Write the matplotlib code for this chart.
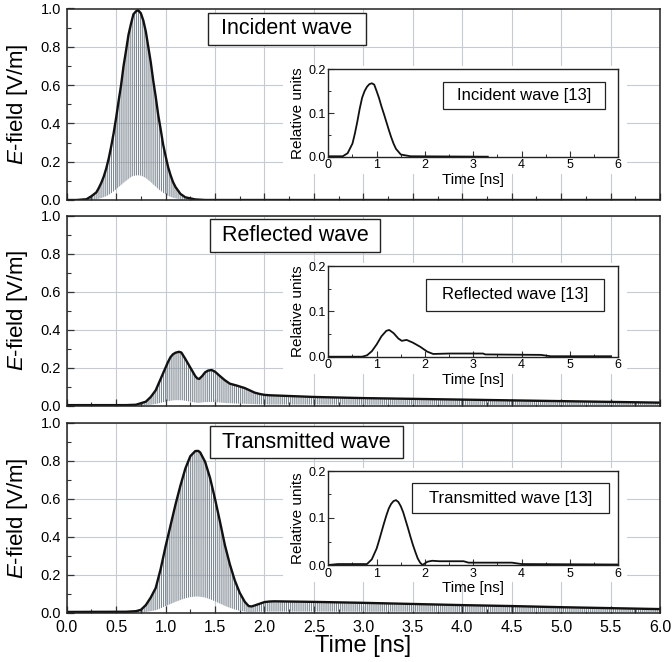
import matplotlib
matplotlib.use("Agg")
from matplotlib import pyplot as plt
from matplotlib.patches import Rectangle
from matplotlib.ticker import MultipleLocator, FormatStrFormatter

plt.rcParams['font.family'] = ['Liberation Sans', 'DejaVu Sans']
plt.rcParams['mathtext.fontset'] = 'custom'
plt.rcParams['mathtext.it'] = 'Liberation Sans:italic'
plt.rcParams['mathtext.rm'] = 'Liberation Sans'
plt.rcParams['hatch.linewidth'] = 0.8

# ---- main panels: envelope (black) and lower edge of the carrier (grey) ----
inc_t = [0.0, 0.1, 0.2, 0.25, 0.3, 0.325, 0.35, 0.375, 0.4, 0.425, 0.45, 0.475, 0.5,
         0.525, 0.55, 0.575, 0.6, 0.625, 0.65, 0.675, 0.7, 0.715, 0.725, 0.75, 0.775,
         0.8, 0.825, 0.85, 0.875, 0.9, 0.925, 0.95, 0.975, 1.0, 1.025, 1.05, 1.075, 1.1,
         1.15, 1.2, 1.3, 1.4, 6.0]
inc_env = [0.0, 0.0, 0.004, 0.02, 0.04, 0.063, 0.09, 0.123, 0.165, 0.217, 0.28, 0.35,
           0.43, 0.517, 0.6, 0.70, 0.78, 0.863, 0.92, 0.97, 0.985, 0.99, 0.99, 0.975,
           0.937, 0.88, 0.80, 0.72, 0.624, 0.54, 0.446, 0.37, 0.29, 0.23, 0.173, 0.13,
           0.094, 0.068, 0.032, 0.014, 0.003, 0.0, 0.0]
inc_low = [0.0, 0.0, 0.0, 0.002, 0.004, 0.007, 0.01, 0.015, 0.02, 0.027, 0.035, 0.045,
           0.056, 0.067, 0.078, 0.09, 0.1, 0.11, 0.12, 0.126, 0.128, 0.129, 0.129, 0.127,
           0.122, 0.115, 0.104, 0.094, 0.081, 0.07, 0.058, 0.048, 0.038, 0.03, 0.022,
           0.017, 0.012, 0.009, 0.004, 0.002, 0.0, 0.0, 0.0]

ref_t = [0.0, 0.6, 0.7, 0.8, 0.85, 0.9, 0.95, 1.0, 1.025, 1.05, 1.075, 1.1, 1.135, 1.16,
         1.2, 1.25, 1.3, 1.32, 1.34, 1.37, 1.4, 1.43, 1.466, 1.5, 1.55, 1.6, 1.65, 1.72,
         1.75, 1.8, 1.85, 1.9, 1.95, 2.0, 2.05, 2.1, 2.5, 3.0, 3.5, 4.0, 4.5, 5.0, 5.5, 6.0]
ref_env = [0.002, 0.002, 0.004, 0.02, 0.045, 0.08, 0.14, 0.2, 0.23, 0.255, 0.27, 0.278,
           0.283, 0.279, 0.245, 0.2, 0.155, 0.143, 0.14, 0.155, 0.175, 0.184, 0.187,
           0.178, 0.155, 0.133, 0.115, 0.105, 0.1, 0.092, 0.08, 0.068, 0.061, 0.056,
           0.054, 0.053, 0.045, 0.039, 0.035, 0.031, 0.027, 0.023, 0.019, 0.015]
ref_low = [0.0, 0.0, 0.0, 0.002, 0.004, 0.008, 0.014, 0.02, 0.023, 0.025, 0.027, 0.028,
           0.028, 0.028, 0.025, 0.02, 0.016, 0.014, 0.014, 0.016, 0.018, 0.018, 0.019,
           0.018, 0.016, 0.013, 0.012, 0.01, 0.01, 0.009, 0.008, 0.007, 0.006, 0.006,
           0.005, 0.005, 0.005, 0.004, 0.004, 0.003, 0.003, 0.002, 0.002, 0.002]

tra_t = [0.0, 0.6, 0.7, 0.75, 0.8, 0.85, 0.9, 0.95, 1.0, 1.05, 1.1, 1.15, 1.2, 1.25,
         1.3, 1.33, 1.35, 1.4, 1.45, 1.5, 1.55, 1.6, 1.65, 1.7, 1.75, 1.8, 1.84, 1.87,
         1.9, 1.95, 2.0, 2.05, 2.1, 2.5, 3.0, 3.5, 4.0, 4.5, 5.0, 5.5, 6.0]
tra_env = [0.004, 0.005, 0.008, 0.015, 0.04, 0.08, 0.13, 0.23, 0.35, 0.46, 0.57, 0.67,
           0.76, 0.825, 0.852, 0.853, 0.845, 0.795, 0.71, 0.6, 0.48, 0.356, 0.255, 0.17,
           0.105, 0.058, 0.035, 0.033, 0.038, 0.047, 0.056, 0.059, 0.06, 0.057, 0.052,
           0.046, 0.04, 0.035, 0.029, 0.024, 0.019]
tra_low = [0.0, 0.0, 0.0, 0.001, 0.004, 0.008, 0.013, 0.023, 0.035, 0.046, 0.057, 0.067,
           0.076, 0.082, 0.085, 0.085, 0.084, 0.08, 0.071, 0.06, 0.048, 0.036, 0.026,
           0.017, 0.01, 0.006, 0.003, 0.003, 0.004, 0.005, 0.006, 0.006, 0.006, 0.006,
           0.005, 0.005, 0.004, 0.004, 0.003, 0.002, 0.002]

# ---- insets: measured pulses from ref. [13] ----
ins_inc_t = [0.0, 0.3, 0.4, 0.5, 0.55, 0.6, 0.65, 0.7, 0.75, 0.8, 0.85, 0.9, 0.95, 1.0,
             1.05, 1.1, 1.15, 1.2, 1.25, 1.3, 1.35, 1.4, 1.5, 1.7, 3.3]
ins_inc_v = [0.001, 0.001, 0.008, 0.03, 0.053, 0.08, 0.11, 0.135, 0.15, 0.16, 0.166,
             0.168, 0.165, 0.15, 0.134, 0.115, 0.098, 0.08, 0.062, 0.045, 0.03, 0.018,
             0.005, 0.001, 0.0]

ins_ref_t = [0.0, 0.7, 0.8, 0.9, 1.0, 1.1, 1.2, 1.26, 1.35, 1.45, 1.52, 1.62, 1.75, 1.9,
             2.05, 2.17, 2.5, 3.0, 3.2, 3.25, 4.4, 4.6, 5.85]
ins_ref_v = [0.0, 0.0, 0.003, 0.012, 0.027, 0.045, 0.057, 0.059, 0.052, 0.04, 0.035,
             0.037, 0.031, 0.022, 0.011, 0.006, 0.007, 0.007, 0.007, 0.005, 0.004, 0.001,
             0.001]

ins_tra_t = [0.0, 0.2, 0.8, 0.9, 1.0, 1.05, 1.1, 1.15, 1.2, 1.25, 1.3, 1.35, 1.4, 1.45,
             1.5, 1.55, 1.6, 1.65, 1.7, 1.75, 1.8, 1.85, 1.9, 1.95, 2.05, 2.15, 2.3, 2.8,
             2.9, 3.8, 4.0, 6.0]
ins_tra_v = [0.0, 0.002, 0.002, 0.012, 0.035, 0.052, 0.07, 0.088, 0.105, 0.12, 0.13,
             0.136, 0.138, 0.134, 0.125, 0.112, 0.095, 0.078, 0.06, 0.043, 0.028, 0.014,
             0.005, 0.0, 0.007, 0.009, 0.008, 0.008, 0.005, 0.005, 0.002, 0.001]

titles = ["Incident wave", "Reflected wave", "Transmitted wave"]
inset_titles = ["Incident wave [13]", "Reflected wave [13]", "Transmitted wave [13]"]

W, H = 672, 662
fig = plt.figure(figsize=(W / 100, H / 100), dpi=100)


def fx(px):
    return px / W


def fy(py):
    return 1 - py / H


# pixel geometry: (top, bottom) of each panel
panels = [(8.5, 200.0), (215.7, 405.5), (423.0, 612.7)]
insets = [(69.3, 156.7), (266.0, 356.7), (471.0, 565.0)]
title_boxes = [(208, 366, 13, 45), (210, 380, 219, 252), (210, 403, 426, 458)]
inset_boxes = [(442.7, 605, 81.7, 109.3), (425.7, 604.3, 279.3, 310.7),
               (411.7, 609.3, 483.3, 513.3)]

series = [(inc_t, inc_env, inc_low), (ref_t, ref_env, ref_low), (tra_t, tra_env, tra_low)]
ins_series = [(ins_inc_t, ins_inc_v), (ins_ref_t, ins_ref_v), (ins_tra_t, ins_tra_v)]

grid_col = '#c6cbd3'
carrier_col = '#7f8992'

for i in range(3):
    top, bot = panels[i]
    ax = fig.add_axes([fx(66.7), fy(bot), fx(660 - 66.7), (bot - top) / H])
    t, env, low = series[i]
    ax.fill_between(t, low, env, facecolor='none', edgecolor=carrier_col,
                    hatch='||||||||', linewidth=0)
    ax.plot(t, env, color='#111111', lw=1.7)
    ax.set_xlim(0, 6)
    ax.set_ylim(0, 1.0)
    ax.xaxis.set_major_locator(MultipleLocator(0.5))
    ax.xaxis.set_minor_locator(MultipleLocator(0.25))
    ax.yaxis.set_major_locator(MultipleLocator(0.2))
    ax.yaxis.set_minor_locator(MultipleLocator(0.1))
    ax.grid(True, which='major', color=grid_col, lw=0.8)
    ax.set_axisbelow(True)
    ax.tick_params(which='both', direction='in', color='#333333')
    ax.tick_params(which='major', length=5, width=0.9)
    ax.tick_params(which='minor', length=3, width=0.8)
    ax.tick_params(axis='y', labelsize=10.5, pad=4)
    ax.tick_params(axis='x', labelsize=11.5, pad=5)
    for s in ax.spines.values():
        s.set_linewidth(1.1)
        s.set_color('#222222')
    ax.set_ylabel('$E$-field [V/m]', fontsize=16)
    ax.yaxis.set_label_coords(-0.062, 0.5)
    if i < 2:
        ax.tick_params(axis='x', labelbottom=False)
    else:
        ax.set_xlabel('Time [ns]', fontsize=17, labelpad=0)

    # title box
    x0, x1, y0, y1 = title_boxes[i]
    fig.patches.append(Rectangle((fx(x0), fy(y1)), fx(x1 - x0), (y1 - y0) / H,
                                 transform=fig.transFigure, facecolor='white',
                                 edgecolor='#222222', lw=1.0, zorder=3))
    fig.text(fx((x0 + x1) / 2), fy((y0 + y1) / 2), titles[i], fontsize=15.5,
             ha='center', va='center', zorder=4)

    # white backing behind inset and its labels
    itop, ibot = insets[i]
    fig.patches.append(Rectangle((fx(283), fy(ibot + 17)), fx(627 - 283),
                                 (ibot + 17 - itop + 3) / H, transform=fig.transFigure,
                                 facecolor='white', edgecolor='none', zorder=1))

    iax = fig.add_axes([fx(328.3), fy(ibot), fx(618.3 - 328.3), (ibot - itop) / H])
    iax.set_zorder(2)
    it, iv = ins_series[i]
    iax.plot(it, iv, color='#111111', lw=1.3)
    iax.set_xlim(0, 6)
    iax.set_ylim(0, 0.2)
    iax.xaxis.set_major_locator(MultipleLocator(1))
    iax.xaxis.set_minor_locator(MultipleLocator(0.5))
    iax.yaxis.set_major_locator(MultipleLocator(0.1))
    iax.yaxis.set_minor_locator(MultipleLocator(0.05))
    iax.yaxis.set_major_formatter(FormatStrFormatter('%.1f'))
    iax.tick_params(which='both', direction='in', labelsize=9, pad=2, color='#333333')
    iax.tick_params(which='major', length=4, width=0.8)
    iax.tick_params(which='minor', length=2.5, width=0.7)
    for s in iax.spines.values():
        s.set_linewidth(1.0)
        s.set_color('#222222')
    iax.set_xlabel('Time [ns]', fontsize=11, labelpad=1)
    iax.set_ylabel('Relative units', fontsize=11, labelpad=2)

    bx0, bx1, by0, by1 = inset_boxes[i]
    fig.patches.append(Rectangle((fx(bx0), fy(by1)), fx(bx1 - bx0), (by1 - by0) / H,
                                 transform=fig.transFigure, facecolor='white',
                                 edgecolor='#222222', lw=0.9, zorder=3))
    fig.text(fx((bx0 + bx1) / 2), fy((by0 + by1) / 2), inset_titles[i], fontsize=12,
             ha='center', va='center', zorder=4)

fig.savefig('out.png', dpi=100)
